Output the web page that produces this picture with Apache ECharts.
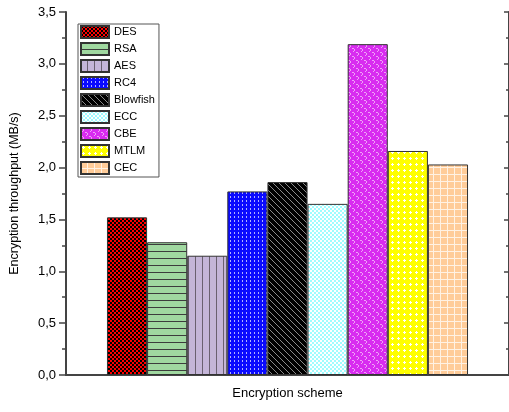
<!DOCTYPE html>
<html>
<head>
<meta charset="utf-8">
<script src="https://cdn.jsdelivr.net/npm/echarts@6/dist/echarts.min.js"></script>
<style>
  html, body { margin: 0; padding: 0; background: #fff; }
  #chart { width: 509px; height: 412px; }
</style>
</head>
<body>
<div id="chart"></div>
<script>
// Throughput per scheme (MB/s)
const schemes = ['DES', 'RSA', 'AES', 'RC4', 'Blowfish', 'ECC', 'CBE', 'MTLM', 'CEC'];
const throughput = [1.52, 1.28, 1.15, 1.77, 1.86, 1.65, 3.19, 2.16, 2.03];
const category = ['Encryption scheme'];
const yTicks = [0, 0.5, 1.0, 1.5, 2.0, 2.5, 3.0, 3.5];

// Small repeating tiles used as hatch fills
function tile(w, h, bg, draw) {
  const c = document.createElement('canvas');
  c.width = w; c.height = h;
  const g = c.getContext('2d');
  g.fillStyle = bg; g.fillRect(0, 0, w, h);
  draw(g);
  return { image: c, repeat: 'repeat' };
}
function px(g, color, pts) {
  g.fillStyle = color;
  pts.forEach(p => g.fillRect(p[0], p[1], p[2] || 1, p[3] || 1));
}

const fills = [
  // DES: red / black checks
  tile(4, 4, '#ff0000', g => px(g, '#000', [[0, 0, 2, 2], [2, 2, 2, 2]])),
  // RSA: green with horizontal lines
  tile(7, 7, '#a0d8a0', g => px(g, '#3c3c3c', [[0, 6, 7, 1]])),
  // AES: lavender with vertical lines
  tile(7, 7, '#c4b5d8', g => px(g, '#6a6070', [[6, 0, 1, 7]])),
  // RC4: blue with light dashes
  tile(4, 4, '#0a0aff', g => px(g, '#b0b0ff', [[2, 0, 1, 2]])),
  // Blowfish: black with grey diagonals
  tile(6, 6, '#000', g => px(g, '#8a8a8a', [[0, 0], [1, 1], [2, 2], [3, 3], [4, 4], [5, 5]])),
  // ECC: cyan with white checks
  tile(4, 4, '#9ffcff', g => px(g, '#ffffff', [[0, 0, 2, 2], [2, 2, 2, 2]])),
  // CBE: magenta with pink curls
  tile(8, 8, '#d82cf0', g => px(g, '#f0a0f8', [[0, 0, 2, 1], [2, 1, 1, 2], [1, 3, 1, 1], [4, 4, 2, 1], [6, 5, 1, 2], [5, 7, 1, 1]])),
  // MTLM: yellow with white plus dots
  tile(6, 6, '#ffff00', g => px(g, '#ffffff', [[1, 2, 3, 1], [2, 1, 1, 3]])),
  // CEC: peach with white grid
  tile(7, 7, '#ffcc99', g => px(g, '#fff2e4', [[6, 0, 1, 7], [0, 6, 7, 1]]))
];

const FONT = 'Liberation Sans, Arial, sans-serif';

const series = schemes.map((name, i) => ({
  name: name,
  type: 'bar',
  xAxisIndex: 0,
  yAxisIndex: 0,
  barGap: '0%',
  barCategoryGap: '18.5%',
  data: [throughput[i]],
  itemStyle: { color: fills[i], borderColor: '#333', borderWidth: 1 }
}));

const chart = echarts.init(document.getElementById('chart'), null, { renderer: 'canvas' });
chart.setOption({
  animation: false,
  backgroundColor: '#fff',
  textStyle: { fontFamily: FONT },
  grid: { left: 59, right: 0, top: 12, bottom: 37 },
  legend: {
    orient: 'vertical',
    left: 78,
    top: 24,
    padding: [1, 4, 2, 2],
    itemWidth: 28,
    itemHeight: 12,
    itemGap: 3,
    itemTextGap: 2,
    borderColor: '#555',
    borderWidth: 1,
    icon: 'rect',
    textStyle: { fontSize: 11, color: '#000', fontFamily: FONT },
    data: schemes
  },
  xAxis: [{
    type: 'category',
    data: category,
    position: 'bottom',
    axisLine: { lineStyle: { color: '#444', width: 2 } },
    axisTick: { alignWithLabel: true, length: 6, lineStyle: { color: '#444', width: 2 } },
    axisLabel: { fontSize: 13, color: '#000', margin: 12, fontFamily: FONT },
    splitLine: { show: false }
  }, {
    type: 'category',
    data: category,
    position: 'top',
    axisLine: { lineStyle: { color: '#444', width: 2 } },
    axisTick: { show: false },
    axisLabel: { show: false }
  }],
  yAxis: [{
    type: 'value',
    min: yTicks[0],
    max: yTicks[yTicks.length - 1],
    interval: 0.5,
    position: 'left',
    name: 'Encryption throughput (MB/s)',
    nameLocation: 'middle',
    nameGap: 45,
    nameTextStyle: { fontSize: 12.5, color: '#000', fontFamily: FONT },
    axisLine: { show: true, lineStyle: { color: '#444', width: 2 } },
    axisTick: { show: true, inside: false, length: 7, lineStyle: { color: '#444', width: 1.5 } },
    minorTick: { show: true, splitNumber: 2, length: 4, lineStyle: { color: '#444', width: 1.5 } },
    axisLabel: {
      fontSize: 13, color: '#000', margin: 10, fontFamily: FONT,
      formatter: v => v.toFixed(1).replace('.', ',')
    },
    splitLine: { show: false }
  }, {
    type: 'value',
    min: yTicks[0],
    max: yTicks[yTicks.length - 1],
    interval: 0.5,
    position: 'right',
    axisLine: { show: true, lineStyle: { color: '#444', width: 2 } },
    axisTick: { show: true, inside: true, length: 5, lineStyle: { color: '#444', width: 1.5 } },
    minorTick: { show: true, splitNumber: 2, length: 3, lineStyle: { color: '#444', width: 1.5 } },
    axisLabel: { show: false },
    splitLine: { show: false }
  }],
  series: series
});
</script>
</body>
</html>
